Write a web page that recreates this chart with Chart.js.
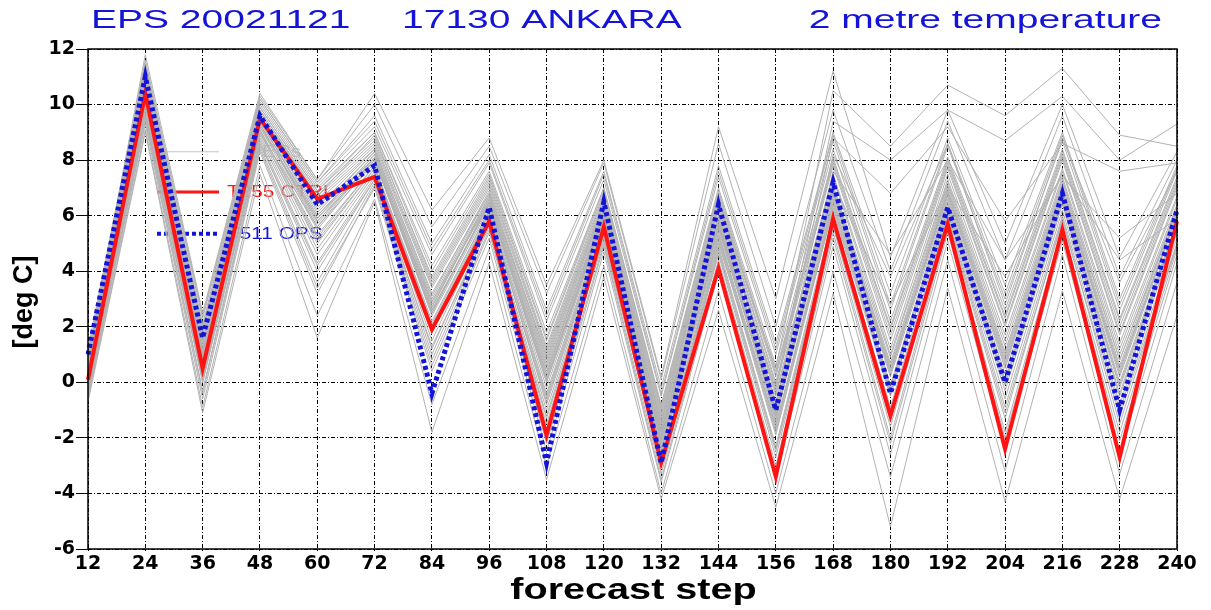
<!DOCTYPE html>
<html>
<head>
<meta charset="utf-8">
<title>EPS 20021121 17130 ANKARA - 2 metre temperature</title>
<script src="https://cdn.jsdelivr.net/npm/chart.js@4.4.1/dist/chart.umd.min.js"></script>
<style>
  html, body { margin: 0; padding: 0; background: #fff; }
  #wrap { width: 1211px; height: 610px; position: relative; }
</style>
</head>
<body>
<div id="wrap"><canvas id="eps"></canvas></div>
<script>
// forecast steps (hours)
const steps = [12, 24, 36, 48, 60, 72, 84, 96, 108, 120, 132, 144, 156, 168, 180, 192, 204, 216, 228, 240];
const yTicks = [-6, -4, -2, 0, 2, 4, 6, 8, 10, 12];

// T255 control run
const ctrl = [0.1, 10.4, 0.5, 9.5, 6.6, 7.4, 1.9, 5.8, -1.9, 5.6, -2.9, 4.1, -3.4, 5.9, -1.2, 5.7, -2.4, 5.5, -2.7, 5.8];
// T511 operational run
const ops = [1.0, 11.0, 1.6, 9.6, 6.4, 7.8, -0.4, 6.3, -2.9, 6.5, -2.9, 6.4, -1.0, 7.2, -0.4, 6.3, 0.0, 6.8, -1.0, 6.2];

// ensemble members (grey spaghetti)
const members = [
  [0.3, 10.2, 0.8, 9.3, 5.8, 8.0, 2.6, 6.4, 0.2, 6.0, -2.1, 5.6, -1.2, 6.8, 0.3, 6.9, 0.8, 7.0, 0.5, 6.0],
  [0.5, 10.8, 1.2, 9.6, 6.5, 8.4, 3.1, 6.9, 0.8, 6.4, -1.6, 6.2, -0.5, 7.4, 1.0, 7.3, 1.5, 7.6, 1.2, 6.6],
  [-0.2, 9.6, 0.1, 8.8, 4.6, 7.5, 1.5, 5.9, -1.0, 5.4, -2.8, 4.9, -2.3, 6.0, -0.9, 6.1, -0.6, 6.2, -0.8, 5.2],
  [0.8, 11.2, 1.9, 10.0, 7.0, 9.0, 4.2, 7.6, 1.8, 7.0, -0.8, 7.0, 0.6, 8.4, 2.2, 8.1, 2.6, 8.4, 2.3, 7.4],
  [0.1, 10.0, 0.5, 9.1, 5.2, 7.8, 2.2, 6.2, -0.4, 5.8, -2.4, 5.2, -1.8, 6.4, -0.3, 6.5, 0.1, 6.6, -0.2, 5.6],
  [0.6, 10.5, 1.4, 9.8, 6.8, 8.7, 3.6, 7.2, 1.2, 6.7, -1.2, 6.6, 0.0, 7.8, 1.5, 7.7, 2.0, 8.0, 1.7, 7.0],
  [-0.5, 9.3, -0.6, 8.3, 3.2, 7.1, 0.6, 5.4, -2.2, 4.9, -3.5, 4.2, -3.2, 5.2, -2.2, 5.4, -2.0, 5.4, -2.1, 4.6],
  [1.0, 11.5, 2.3, 10.2, 7.2, 9.6, 5.0, 8.2, 2.6, 7.6, -0.2, 7.8, 1.4, 9.0, 3.2, 8.8, 3.5, 9.0, 3.0, 7.8],
  [0.2, 10.3, 0.6, 9.4, 5.9, 8.2, 2.8, 6.6, 0.4, 6.1, -1.9, 5.8, -1.0, 7.0, 0.6, 7.0, 1.0, 7.2, 0.8, 6.2],
  [0.4, 10.6, 1.0, 9.0, 5.0, 7.7, 2.0, 6.0, -0.6, 5.6, -2.6, 5.0, -1.5, 6.2, -0.5, 6.3, -0.1, 6.5, -0.4, 5.6],
  [-0.3, 9.8, 0.2, 8.6, 4.0, 7.3, 1.0, 5.7, -1.5, 5.2, -3.0, 4.6, -2.7, 5.6, -1.6, 5.8, -1.3, 5.9, -1.5, 5.0],
  [0.7, 11.0, 1.7, 9.9, 6.9, 8.8, 3.8, 7.4, 1.5, 6.9, -1.0, 6.8, 0.3, 8.0, 1.9, 7.9, 2.3, 8.2, 2.0, 7.2],
  [0.0, 10.1, 0.4, 9.2, 5.5, 8.0, 2.4, 6.3, -0.2, 5.9, -2.2, 5.4, -1.6, 6.6, -0.1, 6.6, 0.3, 6.8, 0.0, 5.8],
  [0.9, 11.8, 2.5, 10.4, 7.3, 10.4, 6.2, 8.8, 3.5, 8.0, 0.2, 9.2, 3.0, 11.2, 4.5, 9.8, 5.0, 10.0, 4.5, 8.3],
  [0.4, 10.4, 1.1, 9.5, 6.2, 8.3, 3.0, 6.8, 1.0, 6.5, -1.5, 6.5, 0.5, 10.5, 8.5, 10.7, 9.6, 11.3, 8.9, 8.5],
  [0.2, 10.0, 0.7, 9.0, 5.6, 7.9, 2.9, 6.5, 0.3, 6.2, -1.8, 6.0, -0.2, 9.4, 8.0, 9.8, 8.7, 10.3, 8.0, 9.3],
  [0.5, 10.7, 1.3, 9.7, 6.6, 8.5, 3.4, 7.0, 0.9, 6.5, -1.4, 6.4, -0.3, 8.8, 6.8, 9.2, 5.8, 8.6, 7.6, 7.9],
  [-0.1, 9.9, 0.3, 8.9, 4.8, 7.6, 1.8, 6.1, -0.8, 5.5, -2.5, 5.3, -1.4, 7.6, 4.6, 8.0, 4.4, 7.4, 5.2, 6.8],
  [0.3, 10.4, 0.9, 9.4, 6.0, 8.1, 2.7, 6.7, 0.5, 6.2, -1.8, 5.9, -0.8, 8.2, 3.8, 8.6, 2.8, 8.8, 3.6, 7.6],
  [0.6, 10.9, 1.5, 9.7, 6.7, 8.6, 3.5, 7.1, 1.1, 6.6, -1.3, 6.5, -0.1, 7.2, 2.8, 7.0, 3.8, 7.5, 4.4, 5.9],
  [-0.4, 9.5, -0.3, 8.5, 3.6, 7.2, 0.8, 5.5, -2.0, 5.0, -3.3, 4.4, -3.0, 5.4, -2.0, 5.6, -1.8, 5.6, -1.8, 4.8],
  [0.2, 10.3, 0.7, 9.3, 5.7, 8.1, 2.5, 6.5, 0.0, 6.0, -2.0, 5.7, -1.1, 6.9, 0.4, 6.8, 0.6, 7.0, 0.3, 6.1],
  [0.8, 11.3, 2.0, 10.1, 7.1, 9.2, 4.6, 7.9, 2.2, 7.3, -0.5, 7.4, 1.0, 8.7, 2.6, 8.5, 3.0, 8.7, 2.6, 7.6],
  [0.1, 10.1, 0.4, 9.1, 5.3, 7.8, 2.1, 6.2, -0.5, 5.7, -2.3, 5.3, -1.7, 6.5, -0.2, 6.4, 0.0, 6.7, -0.1, 5.7],
  [-0.6, 9.1, -0.9, 7.8, 2.4, 6.6, -0.8, 4.8, -3.0, 4.2, -4.0, 3.3, -4.0, 4.0, -3.4, 4.4, -3.2, 4.6, -3.3, 3.6],
  [-0.7, 9.0, -1.1, 7.5, 1.6, 6.5, -1.8, 4.3, -3.5, 3.8, -4.2, 2.6, -4.5, 3.2, -5.2, 3.4, -4.3, 3.3, -4.2, 2.4],
  [1.2, 11.6, 2.4, 10.3, 7.3, 10.0, 5.6, 8.5, 3.2, 7.9, 0.1, 8.6, 2.0, 9.8, 4.0, 9.4, 4.4, 9.6, 3.8, 8.0],
  [0.4, 10.5, 1.0, 9.5, 6.1, 8.3, 2.9, 6.7, 0.6, 6.3, -1.7, 6.0, -0.7, 7.1, 0.9, 7.2, 1.3, 7.4, 1.0, 6.4],
  [0.0, 9.7, 0.0, 8.7, 4.3, 7.4, 1.2, 5.8, -1.2, 5.3, -2.9, 4.8, -2.4, 5.8, -1.2, 6.0, -0.9, 6.0, -1.0, 5.0],
  [0.5, 10.6, 1.1, 9.6, 6.3, 8.4, 3.2, 6.8, 0.7, 6.4, -1.5, 6.3, -0.4, 7.5, 1.2, 7.5, 1.7, 7.7, 1.4, 6.7],
  [0.3, 10.3, 0.8, 9.2, 5.9, 8.0, 2.6, 6.4, 0.1, 6.0, -2.1, 5.6, -1.3, 6.7, 0.2, 6.7, 0.5, 6.9, 0.2, 6.0],
  [-0.2, 9.6, 0.0, 8.6, 4.2, 7.3, 1.3, 5.6, -1.3, 5.1, -2.9, 4.7, -2.5, 5.7, -1.4, 5.9, -1.1, 5.8, -1.2, 4.9],
  [0.7, 11.1, 1.8, 9.9, 6.9, 9.0, 4.0, 7.5, 1.6, 7.0, -0.9, 6.9, 0.4, 8.1, 2.0, 8.0, 2.4, 8.3, 2.2, 7.3],
  [0.2, 10.2, 0.6, 9.3, 5.6, 8.1, 2.5, 6.4, 0.0, 5.9, -2.0, 5.5, -1.2, 6.8, 0.4, 6.8, 0.7, 6.9, 0.4, 6.1],
  [0.6, 10.8, 1.5, 9.8, 6.7, 8.9, 3.7, 7.3, 1.3, 6.8, -1.1, 6.7, 0.2, 7.9, 1.7, 7.8, 2.1, 8.1, 1.8, 7.1],
  [-0.4, 9.4, -0.4, 8.4, 3.4, 7.0, 0.4, 5.2, -2.5, 4.7, -3.6, 4.0, -3.4, 4.9, -2.6, 5.1, -2.4, 5.1, -2.6, 4.3],
  [0.1, 10.0, 0.5, 9.0, 5.1, 7.7, 2.0, 6.1, -0.7, 5.6, -2.4, 5.1, -1.9, 6.3, -0.4, 6.2, -0.3, 6.4, -0.5, 5.4],
  [0.9, 11.4, 2.1, 10.2, 7.2, 9.4, 4.8, 8.0, 2.4, 7.5, -0.4, 7.6, 1.2, 8.9, 2.8, 8.6, 3.2, 8.9, 2.8, 7.7],
  [0.4, 10.4, 0.9, 9.4, 6.0, 8.2, 2.7, 6.6, 0.3, 6.2, -1.8, 5.8, -0.9, 7.0, 0.7, 7.1, 1.1, 7.3, 0.8, 6.3],
  [0.3, 10.3, 0.7, 9.3, 5.8, 8.0, 2.5, 6.5, 0.1, 6.1, -2.0, 5.7, -1.1, 6.9, 0.5, 6.9, 0.9, 7.1, 0.6, 6.2]
];

const GREY = '#b2b2b2';
const RED = '#ff1414';
const BLUE = '#1414d8';
const SANS = '"Liberation Sans", Arial, sans-serif';
const WIDE = '"DejaVu Sans", Verdana, sans-serif';

const datasets = members.map(m => ({
  data: m,
  borderColor: GREY,
  borderWidth: 1,
  pointRadius: 0,
  order: 2
}));
datasets.push({ label: 'T255 CTRL', data: ctrl, borderColor: RED, borderWidth: 4, pointRadius: 0, order: 1 });
datasets.push({ label: 'T511 OPS', data: ops, borderColor: BLUE, borderWidth: 5, borderDash: [4, 3], pointRadius: 0, order: 0 });

// text drawn a little wider than the font, like the original plot
function wideText(c, text, x, y, sx, align) {
  c.save();
  c.translate(x, y);
  c.scale(sx, 1);
  c.textAlign = align;
  c.fillText(text, 0, 0);
  c.restore();
}

// headline and axis titles
const titles = {
  id: 'titles',
  afterDraw(chart) {
    const c = chart.ctx, a = chart.chartArea;
    c.save();
    c.fillStyle = BLUE;
    c.font = '26px ' + SANS;
    c.textBaseline = 'alphabetic';
    wideText(c, 'EPS 20021121', 91, 28, 1.5, 'left');
    wideText(c, '17130 ANKARA', 402, 28, 1.5, 'left');
    wideText(c, '2 metre temperature', 1162, 28, 1.5, 'right');

    c.fillStyle = '#000';
    c.font = 'bold 30px ' + SANS;
    wideText(c, 'forecast step', (a.left + a.right) / 2 + 1, 599, 1.32, 'center');

    c.translate(32, (a.top + a.bottom) / 2 + 3);
    c.rotate(-Math.PI / 2);
    c.font = 'bold 27px ' + SANS;
    c.textAlign = 'center';
    c.fillText('[deg C]', 0, 0);
    c.restore();
  }
};

// frame round the plot
const frame = {
  id: 'frame',
  afterDatasetsDraw(chart) {
    const a = chart.chartArea, c = chart.ctx;
    c.save();
    c.strokeStyle = '#000';
    c.lineWidth = 1.5;
    c.strokeRect(a.left, a.top, a.right - a.left, a.bottom - a.top);
    c.restore();
  }
};

// legend drawn inside the plot, under the lines
const keys = [
  { text: 'ECs', color: '#c4c4c4', width: 1, dash: [], y: 8.3, tx: 262 },
  { text: 'T255 CTRL', color: RED, width: 3, dash: [], y: 6.85, tx: 227 },
  { text: 'T511 OPS', color: BLUE, width: 4, dash: [4, 3], y: 5.35, tx: 227 }
];
const inlineKey = {
  id: 'inlineKey',
  beforeDatasetsDraw(chart) {
    const c = chart.ctx, ys = chart.scales.y;
    c.save();
    c.font = '16px ' + SANS;
    c.textBaseline = 'middle';
    keys.forEach(k => {
      const y = ys.getPixelForValue(k.y);
      c.strokeStyle = k.color;
      c.lineWidth = k.width;
      c.setLineDash(k.dash);
      c.beginPath();
      c.moveTo(157, y);
      c.lineTo(219, y);
      c.stroke();
      c.fillStyle = k.color;
      wideText(c, k.text, k.tx, y + 1, 1.3, 'left');
    });
    c.restore();
  }
};

new Chart(document.getElementById('eps'), {
  type: 'line',
  data: { labels: steps.map(String), datasets: datasets },
  options: {
    responsive: true,
    maintainAspectRatio: false,
    animation: false,
    events: [],
    layout: { padding: { top: 49, right: 34, left: 0, bottom: 0 } },
    elements: { line: { tension: 0 } },
    plugins: { legend: { display: false }, tooltip: { enabled: false }, title: { display: false } },
    scales: {
      x: {
        type: 'category',
        offset: false,
        grid: { color: '#000', lineWidth: 1, tickLength: 2 },
        border: { display: false, dash: [4, 2, 1, 2] },
        ticks: {
          color: '#000', maxRotation: 0, autoSkip: false, padding: 2,
          font: { family: WIDE, size: 19, weight: 'bold' }
        },
        afterFit(s) { s.height = 61; }
      },
      y: {
        min: -6, max: 12,
        afterBuildTicks(s) { s.ticks = yTicks.map(v => ({ value: v })); },
        grid: { color: '#000', lineWidth: 1, tickLength: 12 },
        border: { display: false, dash: [4, 2, 1, 2] },
        ticks: {
          color: '#000', padding: 1,
          font: { family: WIDE, size: 19, weight: 'bold' }
        },
        afterFit(s) { s.width = 88; }
      }
    }
  },
  plugins: [inlineKey, frame, titles]
});
</script>
</body>
</html>
